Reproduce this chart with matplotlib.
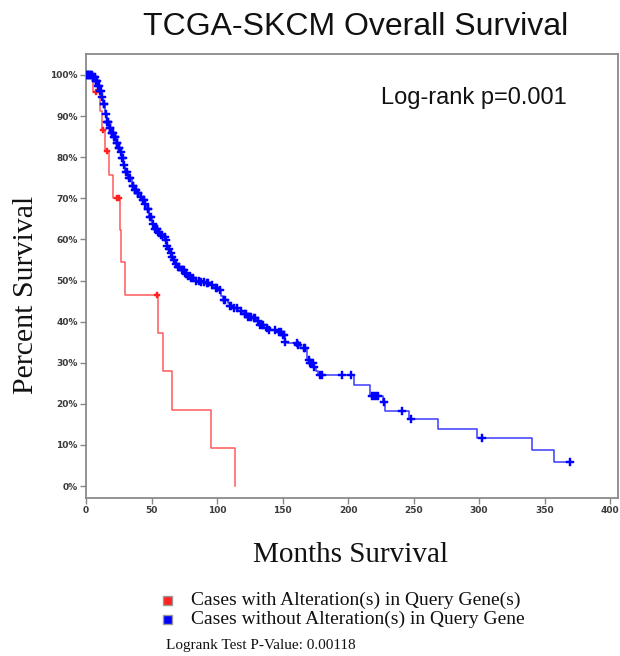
import numpy as np
import matplotlib
matplotlib.use("Agg")
import matplotlib.pyplot as plt
from matplotlib.patches import Rectangle

# ---------------- data ----------------
# Altered group: step vertices (months, % survival)
red_t = [0, 5.1, 11.0, 12.5, 14.5, 17.5, 20.9, 26.0, 26.8, 30.0, 55.2, 58.5, 65.9, 95.2, 113.5]
red_s = [100, 95.8, 91.2, 86.6, 81.6, 75.7, 70.0, 62.2, 54.5, 46.5, 37.2, 27.9, 18.6, 9.3, 0.0]
red_cens = [7.6, 13.2, 15.8, 23.4, 25.4, 54.0]

# Unaltered group: step vertices (months, % survival)
blue_t = [0, 5, 7, 9, 10.5, 12, 13, 14.5, 15.8, 17.5, 19, 21, 23, 24.7, 26, 27.2, 28.5,
          29.8, 32, 34.9, 37, 39, 41.2, 43, 44.5, 46.3, 48, 50.2, 52.7, 55, 57, 59,
          60.3, 61.6, 62.8, 64.1, 65.5, 66.6, 67.9, 70, 72, 75.6, 77, 79.4, 83, 87,
          91, 94.7, 98, 101, 103, 104.8, 108, 110, 112.5, 116.3, 120, 123.9, 127,
          130.3, 132.8, 136, 139.2, 145.6, 149.4, 151.9, 153.2, 162, 163.4, 168.5,
          171, 173.5, 175.5, 177.3, 204.6, 216.8, 226.5, 228.2, 246.8, 268.9, 298.2,
          340.2, 357.3, 369.5]
blue_s = [100, 99.5, 98.5, 97.2, 96, 94.7, 93, 90.5, 88.5, 87, 86, 84.8, 83.5, 82.2, 81.2,
          79.7, 78, 76.5, 75, 73, 72, 71.2, 70.4, 69.5, 68.5, 67.4, 65.5, 63.8, 62.5,
          61.6, 61, 60.7, 59.8, 58.5, 57.6, 56.8, 55.8, 55, 54, 53.2, 52.6, 51.7, 51,
          50.5, 49.9, 49.7, 49.3, 48.8, 48.3, 47.7, 46.3, 45.3, 44.5, 43.8, 43.2, 42.6,
          41.8, 41.2, 40.8, 40.2, 39.2, 38.5, 38.0, 37.6, 36.7, 35.1, 34.7, 34.2, 33.5,
          30.7, 30.0, 29.0, 28.0, 27.0, 24.6, 21.9, 20.5, 18.3, 16.2, 13.9, 11.6, 8.8,
          5.9, 5.9]
blue_cens = [0.5, 1, 1.5, 2, 2.5, 3, 3.5, 4, 4.5, 5.5, 6, 6.5, 7.5, 8, 8.5, 9.5, 10, 11,
             11.5, 12.5, 13.5, 14, 15, 16, 16.5, 17, 18, 18.5, 19.5, 20, 20.5, 21.5, 22,
             22.5, 23.5, 24, 25, 25.5, 26.5, 27.5, 28, 29, 30.5, 31, 33, 33.5, 35.5, 36,
             37.5, 38, 39.5, 40, 42, 43.5, 44, 45, 47, 47.5, 49, 49.5, 51, 53, 54, 54.5,
             56, 57.5, 58, 60, 61, 62, 63.5, 65, 66, 67, 68.5, 70.5, 71, 73, 74, 75, 76,
             78, 79, 80, 82, 84, 86, 88, 90, 92, 93, 96, 99, 100, 102, 105, 106, 110,
             111, 113, 115, 118, 121, 122, 124, 125, 126, 128, 129, 131, 133, 134, 135,
             138, 140, 144, 147, 149, 150, 151, 152, 161, 162, 166, 167, 170, 171, 172,
             173, 174, 178.6, 179.9, 195.2, 202.1, 218.5, 219.5, 221, 222.5, 227.7, 241,
             248.1, 302, 369.5]

x_ticks = [0, 50, 100, 150, 200, 250, 300, 350, 400]
y_ticks = [0, 10, 20, 30, 40, 50, 60, 70, 80, 90, 100]

title = "TCGA-SKCM Overall Survival"
p_text = "Log-rank p=0.001"
legend_labels = ["Cases with Alteration(s) in Query Gene(s)",
                 "Cases without Alteration(s) in Query Gene"]
footer = "Logrank Test P-Value: 0.00118"


def step_value(ts, ss, x):
    idx = np.searchsorted(np.asarray(ts), np.asarray(x), side="right") - 1
    return np.asarray(ss)[np.clip(idx, 0, len(ss) - 1)]


# ---------------- figure ----------------
W, H = 620, 656
fig = plt.figure(figsize=(W / 100, H / 100), dpi=100)
ax = fig.add_axes([86 / W, 1 - 498 / H, 532 / W, 444 / H])

RED = "#ff2020"
BLUE = "#0000ff"

ax.step(red_t, red_s, where="post", color="#ff5a5a", lw=1.1, zorder=3)
ax.step(blue_t, blue_s, where="post", color="#3a3aff", lw=1.1, zorder=3)

ax.plot(red_cens, step_value(red_t, red_s, red_cens), linestyle="none", marker="P",
        ms=5, color=RED, mec=RED, mew=0.3, zorder=4)
ax.plot(blue_cens, step_value(blue_t, blue_s, blue_cens), linestyle="none", marker="P",
        ms=5.2, color=BLUE, mec=BLUE, mew=0.3, zorder=4)

ax.set_xlim(0, 406)
ax.set_ylim(-2.9, 105.1)
ax.set_xticks(x_ticks)
ax.set_xticklabels([str(v) for v in x_ticks])
ax.set_yticks(y_ticks)
ax.set_yticklabels([f"{v}%" for v in y_ticks])
for lab in ax.get_xticklabels() + ax.get_yticklabels():
    lab.set_fontsize(6.5)
    lab.set_fontweight("bold")
    lab.set_color("#3a3a3a")
    lab.set_family("DejaVu Sans")
ax.tick_params(direction="out", length=4, width=1, color="#888888", pad=2)
for sp in ax.spines.values():
    sp.set_color("#8a8a8a")
    sp.set_linewidth(1.3)

# titles and labels
fig.text(356 / W, 1 - 35 / H, title, ha="center", va="baseline",
         fontsize=23, family="Liberation Sans", color="#111111")
fig.text(567 / W, 1 - 104 / H, p_text, ha="right", va="baseline",
         fontsize=17, family="Liberation Sans", color="#111111")
fig.text(351 / W, 1 - 555 / H, "Months Survival", ha="center", va="center",
         fontsize=21, family="Liberation Serif", color="#111111")
fig.text(26 / W, 1 - 295 / H, "Percent Survival", ha="center", va="center",
         rotation=90, fontsize=21.5, family="Liberation Serif", color="#111111")

# legend
for i, (lab, col) in enumerate(zip(legend_labels, [RED, BLUE])):
    yc = 600 + 19 * i
    fig.patches.append(Rectangle(((163) / W, 1 - (yc + 4.5) / H), 9 / W, 9 / H,
                                 transform=fig.transFigure, facecolor=col,
                                 edgecolor="#999999", lw=1))
    fig.text(191 / W, 1 - yc / H, lab, ha="left", va="center",
             fontsize=14, family="Liberation Serif", color="#111111")
fig.text(166 / W, 1 - 645 / H, footer, ha="left", va="center",
         fontsize=11, family="Liberation Serif", color="#111111")

fig.savefig("out.png", dpi=100)
